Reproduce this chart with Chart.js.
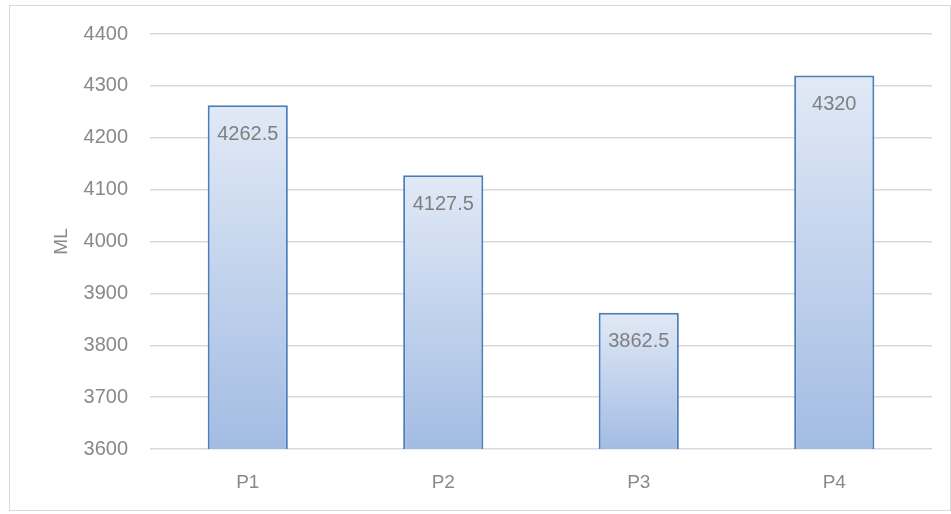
<!DOCTYPE html>
<html>
<head>
<meta charset="utf-8">
<script src="https://cdn.jsdelivr.net/npm/chart.js@4/dist/chart.umd.min.js"></script>
<style>
html,body{margin:0;padding:0;background:#fff;}
#wrap{width:951px;height:514px;position:relative;}
</style>
</head>
<body>
<div id="wrap"><canvas id="c" width="951" height="514"></canvas></div>
<script>
const categories = ['P1', 'P2', 'P3', 'P4'];
const values = [4262.5, 4127.5, 3862.5, 4320];
const yTicks = [3600, 3700, 3800, 3900, 4000, 4100, 4200, 4300, 4400];
const yTitle = 'ML';

const FONT = "'Liberation Sans', Arial, sans-serif";

const borderPlugin = {
  id: 'outerBorder',
  beforeDraw(chart) {
    const ctx = chart.ctx;
    ctx.save();
    ctx.fillStyle = '#fff';
    ctx.fillRect(0, 0, chart.width, chart.height);
    ctx.strokeStyle = '#d9d9d9';
    ctx.lineWidth = 1;
    ctx.strokeRect(9.5, 5.5, 941, 505);
    ctx.restore();
  }
};

const labelPlugin = {
  id: 'barLabels',
  afterDatasetsDraw(chart) {
    const ctx = chart.ctx;
    const meta = chart.getDatasetMeta(0);
    ctx.save();
    ctx.font = '20px ' + FONT;
    ctx.fillStyle = '#7f7f7f';
    ctx.textAlign = 'center';
    ctx.textBaseline = 'middle';
    meta.data.forEach((bar, i) => {
      ctx.fillText(String(values[i]), bar.x, bar.y + 29);
    });
    ctx.restore();
  }
};

function barGradient(context) {
  const chart = context.chart;
  const area = chart.chartArea;
  if (!area || context.parsed === undefined) return '#c5d5ee';
  const y = chart.scales.y;
  const top = y.getPixelForValue(context.parsed.y);
  const bottom = y.getPixelForValue(y.min);
  if (!isFinite(top) || !isFinite(bottom) || top === bottom) return '#c5d5ee';
  const g = chart.ctx.createLinearGradient(0, top, 0, bottom);
  g.addColorStop(0, '#e1e9f6');
  g.addColorStop(1, '#a3bce3');
  return g;
}

new Chart(document.getElementById('c'), {
  type: 'bar',
  data: {
    labels: categories,
    datasets: [{
      data: values,
      backgroundColor: barGradient,
      borderColor: '#4a7ebb',
      borderWidth: 2,
      borderSkipped: 'bottom',
      categoryPercentage: 1,
      barPercentage: 0.41
    }]
  },
  options: {
    responsive: false,
    animation: false,
    devicePixelRatio: 1,
    layout: { padding: { left: 50, right: 19, top: 34, bottom: 23 } },
    plugins: { legend: { display: false }, tooltip: { enabled: false } },
    scales: {
      x: {
        afterFit(axis) { axis.height = 42; },
        grid: { display: false, drawTicks: false },
        border: { display: false },
        ticks: { color: '#898989', font: { size: 19, family: FONT }, padding: 22 }
      },
      y: {
        min: 3600,
        max: 4400,
        afterBuildTicks(axis) { axis.ticks = yTicks.map(v => ({ value: v })); },
        afterFit(axis) { axis.width = 100; },
        grid: { color: '#d9d9d9', lineWidth: 1.5, drawTicks: false },
        border: { display: false },
        ticks: { color: '#898989', font: { size: 20, family: FONT }, padding: 22, callback: v => String(v) },
        title: { display: true, text: yTitle, color: '#898989', font: { size: 19, family: FONT }, padding: 0 }
      }
    }
  },
  plugins: [borderPlugin, labelPlugin]
});
</script>
</body>
</html>
